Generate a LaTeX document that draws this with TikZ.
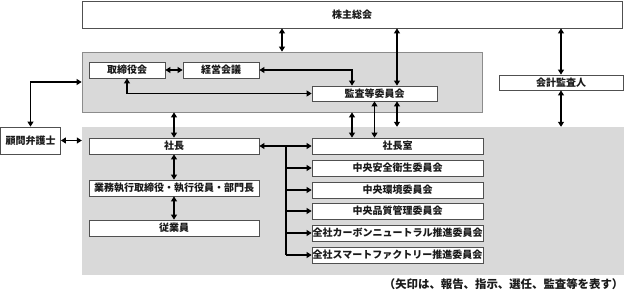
\documentclass[tikz,border=0pt]{standalone}
\usepackage{fontspec}
\newfontfamily\jp{Noto Sans CJK JP}
\usetikzlibrary{arrows.meta,shadows}
\definecolor{areagray}{HTML}{D9D9D9}
\definecolor{areaedge}{HTML}{8C8C8C}
\definecolor{boxedge}{HTML}{505050}
\definecolor{txt}{HTML}{1A1A1A}
\tikzset{
  box/.style={draw=boxedge, line width=0.8pt, fill=white, inner sep=0pt,
    minimum height=16pt, text=txt, font=\jp\bfseries\fontsize{10}{12}\selectfont,
    drop shadow={shadow xshift=0.8pt, shadow yshift=-0.8pt, fill=gray!70, opacity=1}},
  area/.style={inner sep=0pt, fill=areagray},
  conn/.style={line width=1.1pt, black},
  dbl/.style={conn, {Triangle[length=5pt,width=6pt]}-{Triangle[length=5pt,width=6pt]}},
  one/.style={conn, -{Triangle[length=5pt,width=6pt]}},
  note/.style={inner sep=0pt, text=txt, font=\jp\bfseries\fontsize{11.4}{13}\selectfont}
}
\begin{document}
\begin{tikzpicture}[x=1pt,y=-1pt]
\useasboundingbox (0,0) rectangle (624,292);
% areas
\node[area, draw=areaedge, line width=0.8pt, minimum width=400pt, minimum height=60pt] (g1) at (282,82) {};
\node[area, minimum width=542pt, minimum height=148pt] (g2) at (353,201) {};
% boxes
\node[box, minimum width=540pt, minimum height=27pt] (kabu) at (352,14.5) {株主総会};
\node[box, minimum width=76pt] (tori) at (127,70) {取締役会};
\node[box, minimum width=76pt] (keiei) at (221,70) {経営会議};
\node[box, minimum width=125pt, minimum height=15pt] (kansa) at (374.5,93.5) {監査等委員会};
\node[box, minimum width=124pt, minimum height=15pt] (kaikei) at (561,82.5) {会計監査人};
\node[box, minimum width=60pt, minimum height=27pt] (komon) at (30.5,140.5) {顧問弁護士};
\node[box, minimum width=170pt] (shacho) at (174,146) {社長};
\node[box, minimum width=170pt] (gyomu) at (174,188) {業務執行取締役・執行役員・部門長};
\node[box, minimum width=170pt] (jugyo) at (174,228) {従業員};
\node[box, minimum width=171pt] (r1) at (397.5,146) {社長室};
\node[box, minimum width=171pt] (r2) at (397.5,168) {中央安全衛生委員会};
\node[box, minimum width=171pt] (r3) at (397.5,190) {中央環境委員会};
\node[box, minimum width=171pt] (r4) at (397.5,211) {中央品質管理委員会};
\node[box, minimum width=171pt] (r5) at (397.5,233) {全社カーボンニュートラル推進委員会};
\node[box, minimum width=171pt] (r6) at (397.5,255) {全社スマートファクトリー推進委員会};
\node[note, anchor=east] (fn) at (623.5,284) {（矢印は、報告、指示、選任、監査等を表す）};
% connectors
\draw[dbl] (kabu.south -| g1.north) -- (g1.north);
\draw[dbl] (kabu.south -| 397,0) -- (kansa.north -| 397,0);
\draw[dbl] (kabu.south -| kaikei.north) -- (kaikei.north);
\draw[dbl] (kaikei.south) -- (kaikei.south |- g2.north);
\draw[dbl] (tori.east) -- (keiei.west);
\draw[dbl] (keiei.east) -| (kansa.north -| 352,0);
\draw[dbl] (tori.south) |- (kansa.west);
\draw[dbl] (komon.north) |- (g1.west);
\draw[dbl] (komon.east) -- (komon.east -| g2.west);
\draw[dbl] (g1.south -| shacho.north) -- (shacho.north);
\draw[dbl] (g1.south -| 352,0) -- (r1.north -| 352,0);
\draw[dbl] (kansa.south) -- (kansa.south |- r1.north);
\draw[dbl] (kansa.south -| 397,0) -- (g2.north -| 397,0);
\draw[dbl] (shacho.south) -- (gyomu.north);
\draw[dbl] (gyomu.south) -- (jugyo.north);
\draw[dbl] (shacho.east) -- (r1.west);
\draw[conn] (shacho.east -| 286,0) -- (r6.west -| 286,0);
\foreach \r in {r2,r3,r4,r5,r6} {
  \draw[one] (\r.west -| 286,0) -- (\r.west);
}
\end{tikzpicture}
\end{document}
